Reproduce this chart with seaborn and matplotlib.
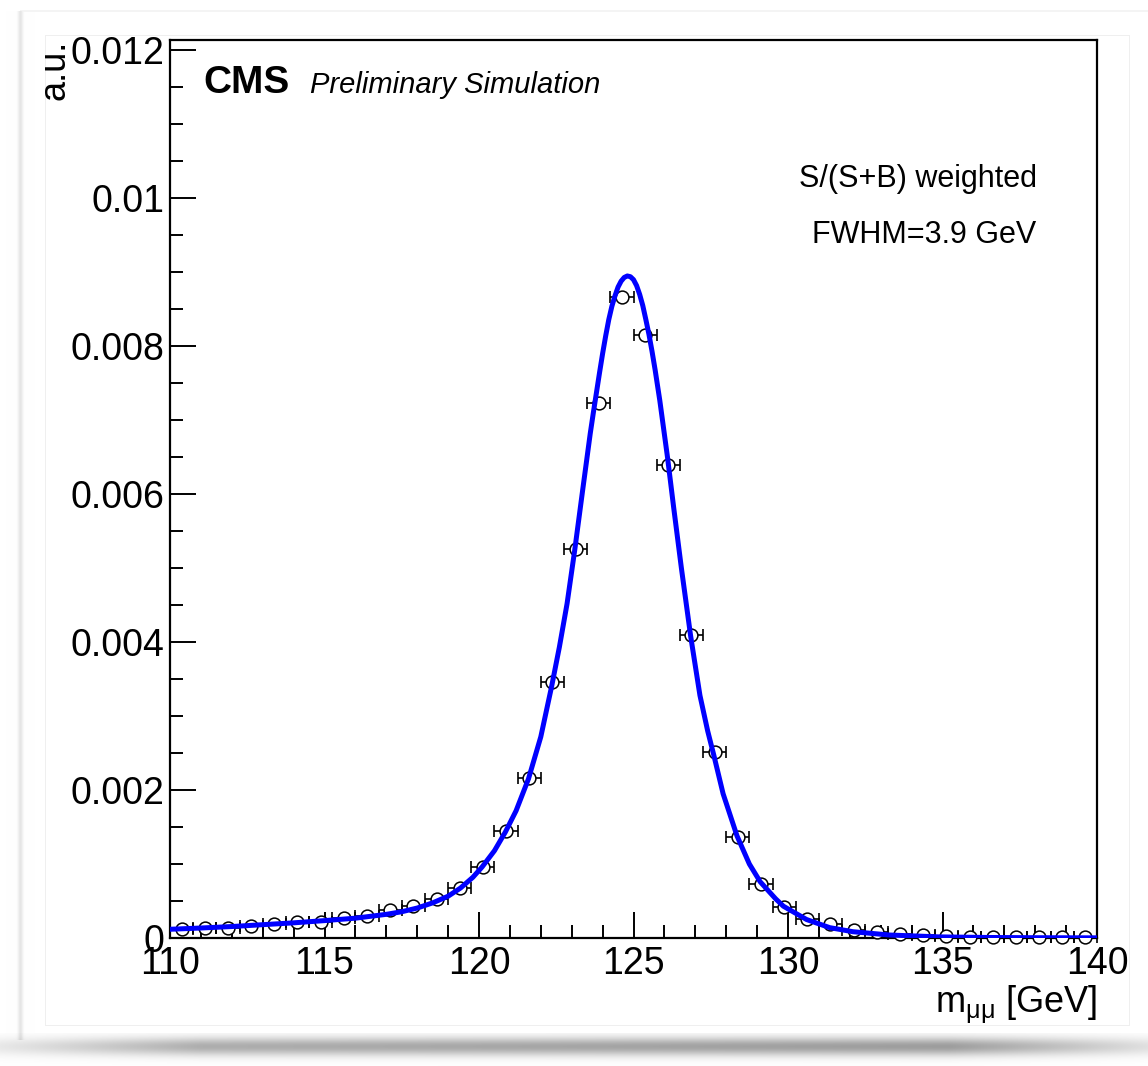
import numpy as np
import matplotlib
matplotlib.use("Agg")
import matplotlib.pyplot as plt
from matplotlib.ticker import MultipleLocator
import seaborn as sns

# ---- binned dimuon mass distribution (bin centres, normalised content) ----
bin_centers = [110.375, 111.125, 111.875, 112.625, 113.375, 114.125, 114.875, 115.625,
               116.375, 117.125, 117.875, 118.625, 119.375, 120.125, 120.875, 121.625,
               122.375, 123.125, 123.875, 124.625, 125.375, 126.125, 126.875, 127.625,
               128.375, 129.125, 129.875, 130.625, 131.375, 132.125, 132.875, 133.625,
               134.375, 135.125, 135.875, 136.625, 137.375, 138.125, 138.875, 139.625]
bin_values = [0.000122, 0.000131, 0.000135, 0.000162, 0.000185, 0.000220, 0.000220, 0.000266,
              0.000297, 0.000378, 0.000432, 0.000530, 0.000672, 0.000964, 0.001446, 0.002158,
              0.003464, 0.005253, 0.007234, 0.008667, 0.008158, 0.006401, 0.004095, 0.002520,
              0.001360, 0.000725, 0.000414, 0.000257, 0.000189, 0.000108, 0.000077, 0.000054,
              0.000040, 0.000027, 0.000020, 0.000016, 0.000013, 0.000011, 0.000009, 0.000008]
bin_half_width = 0.375

# ---- fitted signal shape ----
fit_mass = [110.0, 111.0, 112.0, 113.0, 114.0, 115.0, 116.0, 117.0, 117.5, 118.0,
            118.5, 119.0, 119.4, 119.8, 120.1, 120.5, 120.85, 121.2, 121.6, 122.0,
            122.35, 122.6, 122.85, 123.1, 123.35, 123.6, 123.7, 123.8, 123.9, 124.0,
            124.1, 124.2, 124.3, 124.4, 124.5, 124.6, 124.7, 124.8, 124.9, 125.0,
            125.1, 125.2, 125.3, 125.4, 125.5, 125.6, 125.7, 125.85, 126.1, 126.3,
            126.55, 126.85, 127.15, 127.4, 127.6, 127.9, 128.35, 128.75, 129.1, 129.6,
            129.85, 130.6, 131.35, 132.1, 133.3, 134.9, 136.5, 138.0, 140.0]
fit_value = [0.000118, 0.000135, 0.000155, 0.000180, 0.000205, 0.000235, 0.000268, 0.000320, 0.000355, 0.000405,
             0.000475, 0.000565, 0.000675, 0.000820, 0.000960, 0.001180, 0.001430, 0.001720, 0.002150, 0.002720,
             0.003400, 0.003930, 0.004520, 0.005250, 0.006040, 0.006820, 0.007100, 0.007370, 0.007640, 0.007900,
             0.008140, 0.008360, 0.008540, 0.008680, 0.008800, 0.008880, 0.008930, 0.008950, 0.008940, 0.008900,
             0.008820, 0.008700, 0.008550, 0.008360, 0.008160, 0.007930, 0.007680, 0.007270, 0.006500, 0.005820,
             0.005000, 0.004080, 0.003280, 0.002800, 0.002470, 0.001950, 0.001380, 0.001000, 0.000760, 0.000530,
             0.000430, 0.000250, 0.000140, 0.000085, 0.000040, 0.000015, 0.000007, 0.000004, 0.000002]

x_ticks = [110, 115, 120, 125, 130, 135, 140]
x_tick_labels = ["110", "115", "120", "125", "130", "135", "140"]
y_ticks = [0.0, 0.002, 0.004, 0.006, 0.008, 0.010, 0.012]
y_tick_labels = ["0", "0.002", "0.004", "0.006", "0.008", "0.01", "0.012"]

sns.set_theme(style="ticks")
plt.rcParams["font.family"] = ["Liberation Sans", "DejaVu Sans"]
plt.rcParams["mathtext.fontset"] = "custom"
plt.rcParams["mathtext.rm"] = "Liberation Sans"
plt.rcParams["mathtext.it"] = "Liberation Sans:italic"
for key in ("text.color", "axes.labelcolor", "xtick.color", "ytick.color", "axes.edgecolor"):
    plt.rcParams[key] = "black"

W, H = 1148, 1066
fig = plt.figure(figsize=(W / 100, H / 100), dpi=100)

# ---- window backdrop: panel borders and drop shadow ----
bg = np.ones((H, W))
yy = np.arange(H)[:, None]
xx = np.arange(W)[None, :]
# soft shadow below the window
band = np.exp(-((yy - 1046) / 9.0) ** 2)
fade = np.clip(np.minimum(xx, W - xx) / 200.0, 0, 1) * 0.7 + 0.3
ramp = 0.75 + 0.25 * xx / W
bg -= 0.40 * band * fade * ramp * (yy > 1032)
# faint window edge (left / top)
edge = np.exp(-((xx - 20) / 2.5) ** 2)
bg[11:1040, :] -= 0.10 * edge[:, :]
bg[10:12, 20:W] = np.minimum(bg[10:12, 20:W], 0.96)
# faint canvas rectangle
bg[35, 45:1130] = 0.94
bg[1025, 45:1130] = 0.94
bg[35:1026, 45] = 0.94
bg[35:1026, 1129] = 0.94
bg = np.clip(bg, 0, 1)
bax = fig.add_axes([0, 0, 1, 1], zorder=-5)
bax.imshow(np.dstack([bg, bg, bg]), aspect="auto", interpolation="bilinear",
           extent=[0, W, H, 0])
bax.set_axis_off()

# ---- main pad ----
left, right, top, bottom = 170, 1097, 40, 938
ax = fig.add_axes([left / W, 1 - bottom / H, (right - left) / W, (bottom - top) / H])
ax.set_facecolor("white")

ax.errorbar(bin_centers, bin_values, xerr=bin_half_width, fmt="none",
            ecolor="black", elinewidth=1.2, capsize=4.5, capthick=1.2,
            zorder=3, clip_on=False)
sns.scatterplot(x=bin_centers, y=bin_values, ax=ax, marker="o", s=85,
                facecolor="white", edgecolor="black", linewidth=1.1,
                zorder=4, clip_on=False, legend=False)
sns.lineplot(x=fit_mass, y=fit_value, ax=ax, color="#0000ff", linewidth=3.6,
             zorder=5, sort=True, estimator=None)

ax.set_xlim(110, 140)
ax.set_ylim(0, 0.01214)
ax.set_xticks(x_ticks, labels=x_tick_labels)
ax.set_yticks(y_ticks, labels=y_tick_labels)
ax.xaxis.set_minor_locator(MultipleLocator(1))
ax.yaxis.set_minor_locator(MultipleLocator(0.0005))
ax.tick_params(axis="both", which="major", direction="in", length=19, width=1.4,
               labelsize=27, colors="black", top=False, right=False)
ax.tick_params(axis="both", which="minor", direction="in", length=9.5, width=1.4,
               top=False, right=False)
ax.tick_params(axis="x", which="major", pad=6)
ax.tick_params(axis="y", which="major", pad=4)
for s in ax.spines.values():
    s.set_visible(True)
    s.set_linewidth(1.6)
    s.set_color("black")
ax.set_xlabel("")
ax.set_ylabel("")

# axis titles
ax.text(1.0, (bottom - 1013) / (bottom - top), r"m$_{\mathregular{\mu\mu}}$ [GeV]",
        transform=ax.transAxes, ha="right", va="baseline", fontsize=26, color="black")
ax.text((64 - left) / (right - left), 1.0, "a.u.", transform=ax.transAxes,
        rotation=90, rotation_mode="anchor", ha="right", va="baseline", fontsize=26,
        color="black")

# labels inside the pad
ax.text(0.036, 0.9413, "CMS", transform=ax.transAxes, fontsize=28,
        fontweight="bold", va="baseline", ha="left", color="black")
ax.text(0.151, 0.9413, "Preliminary Simulation", transform=ax.transAxes,
        fontsize=21, fontstyle="italic", va="baseline", ha="left", color="black")
ax.text(0.935, 0.836, "S/(S+B) weighted", transform=ax.transAxes,
        fontsize=22, va="baseline", ha="right", color="black")
ax.text(0.935, 0.774, "FWHM=3.9 GeV", transform=ax.transAxes,
        fontsize=22, va="baseline", ha="right", color="black")

fig.savefig("out.png", dpi=100)
